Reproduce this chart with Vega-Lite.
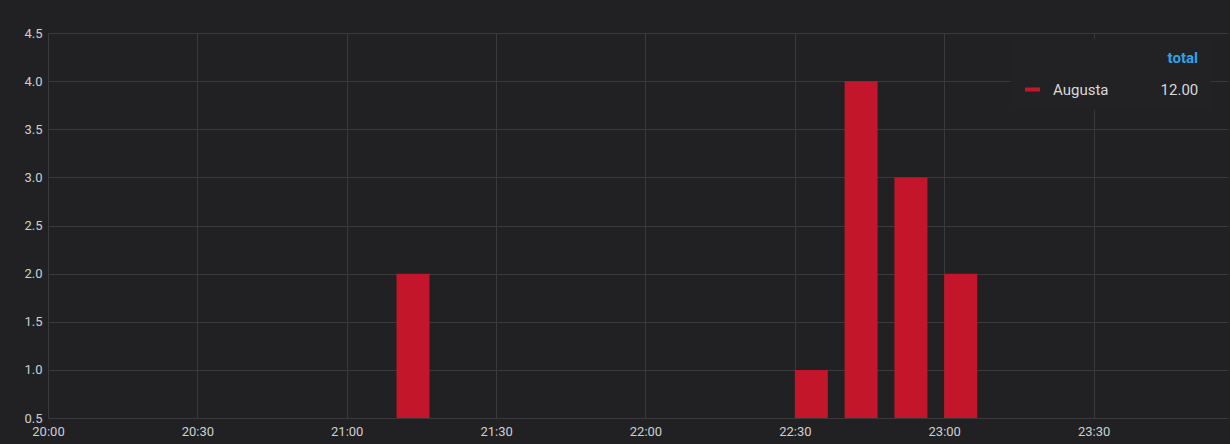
{
  "$schema": "https://vega.github.io/schema/vega-lite/v6.json",
  "width": 1180,
  "height": 385,
  "autosize": "none",
  "padding": {"left": 48, "top": 33, "right": 2, "bottom": 26},
  "background": "#212124",
  "data": {
    "values": [
      {"time": "21:10", "minuteOfDay": 1270, "count": 2, "series": "Augusta"},
      {"time": "22:30", "minuteOfDay": 1350, "count": 1, "series": "Augusta"},
      {"time": "22:40", "minuteOfDay": 1360, "count": 4, "series": "Augusta"},
      {"time": "22:50", "minuteOfDay": 1370, "count": 3, "series": "Augusta"},
      {"time": "23:00", "minuteOfDay": 1380, "count": 2, "series": "Augusta"}
    ]
  },
  "mark": {"type": "bar", "color": "#c4162a", "clip": true, "width": 33, "xOffset": 16.5},
  "encoding": {
    "x": {
      "field": "minuteOfDay",
      "type": "quantitative",
      "scale": {"domain": [1200, 1437], "zero": false, "nice": false, "padding": 0},
      "axis": {
        "title": null,
        "values": [1200, 1230, 1260, 1290, 1320, 1350, 1380, 1410],
        "labelExpr": "floor(datum.value / 60) + ':' + (datum.value % 60 < 10 ? '0' : '') + (datum.value % 60)",
        "labelFontSize": 13,
        "labelColor": "#cfcfd0",
        "labelFlush": false,
        "labelPadding": 7,
        "tickSize": 0,
        "domain": false,
        "gridColor": "#3a3a3d",
        "gridOpacity": 1
      }
    },
    "y": {
      "field": "count",
      "type": "quantitative",
      "scale": {"domain": [0.5, 4.5], "zero": false, "nice": false, "padding": 0},
      "axis": {
        "title": null,
        "values": [0.5, 1, 1.5, 2, 2.5, 3, 3.5, 4, 4.5],
        "format": ".1f",
        "labelFontSize": 13,
        "labelColor": "#cfcfd0",
        "labelPadding": 6,
        "tickSize": 0,
        "domain": false,
        "gridColor": "#3a3a3d",
        "gridOpacity": 1
      }
    },
    "color": {
      "field": "series",
      "type": "nominal",
      "scale": {"range": ["#c4162a"]},
      "legend": {
        "orient": "none",
        "legendX": 963,
        "legendY": 6,
        "title": "total",
        "titleAnchor": "end",
        "titleColor": "#33a2e5",
        "titleFontSize": 15,
        "titleFontWeight": "bold",
        "titlePadding": 14,
        "fillColor": "#222225",
        "padding": 12,
        "symbolType": "stroke",
        "symbolStrokeWidth": 4,
        "symbolSize": 225,
        "symbolStrokeColor": "#c4162a",
        "labelFontSize": 15,
        "labelColor": "#d8d9da",
        "labelOffset": 11,
        "labelLimit": 400,
        "labelExpr": "datum.label + '\u00a0\u00a0\u00a0\u00a0\u00a0\u00a0\u00a0\u00a0\u00a0\u00a0\u00a0\u00a0\u00a0\u00a012.00'"
      }
    }
  },
  "config": {"view": {"stroke": null}, "font": "Roboto"}
}
